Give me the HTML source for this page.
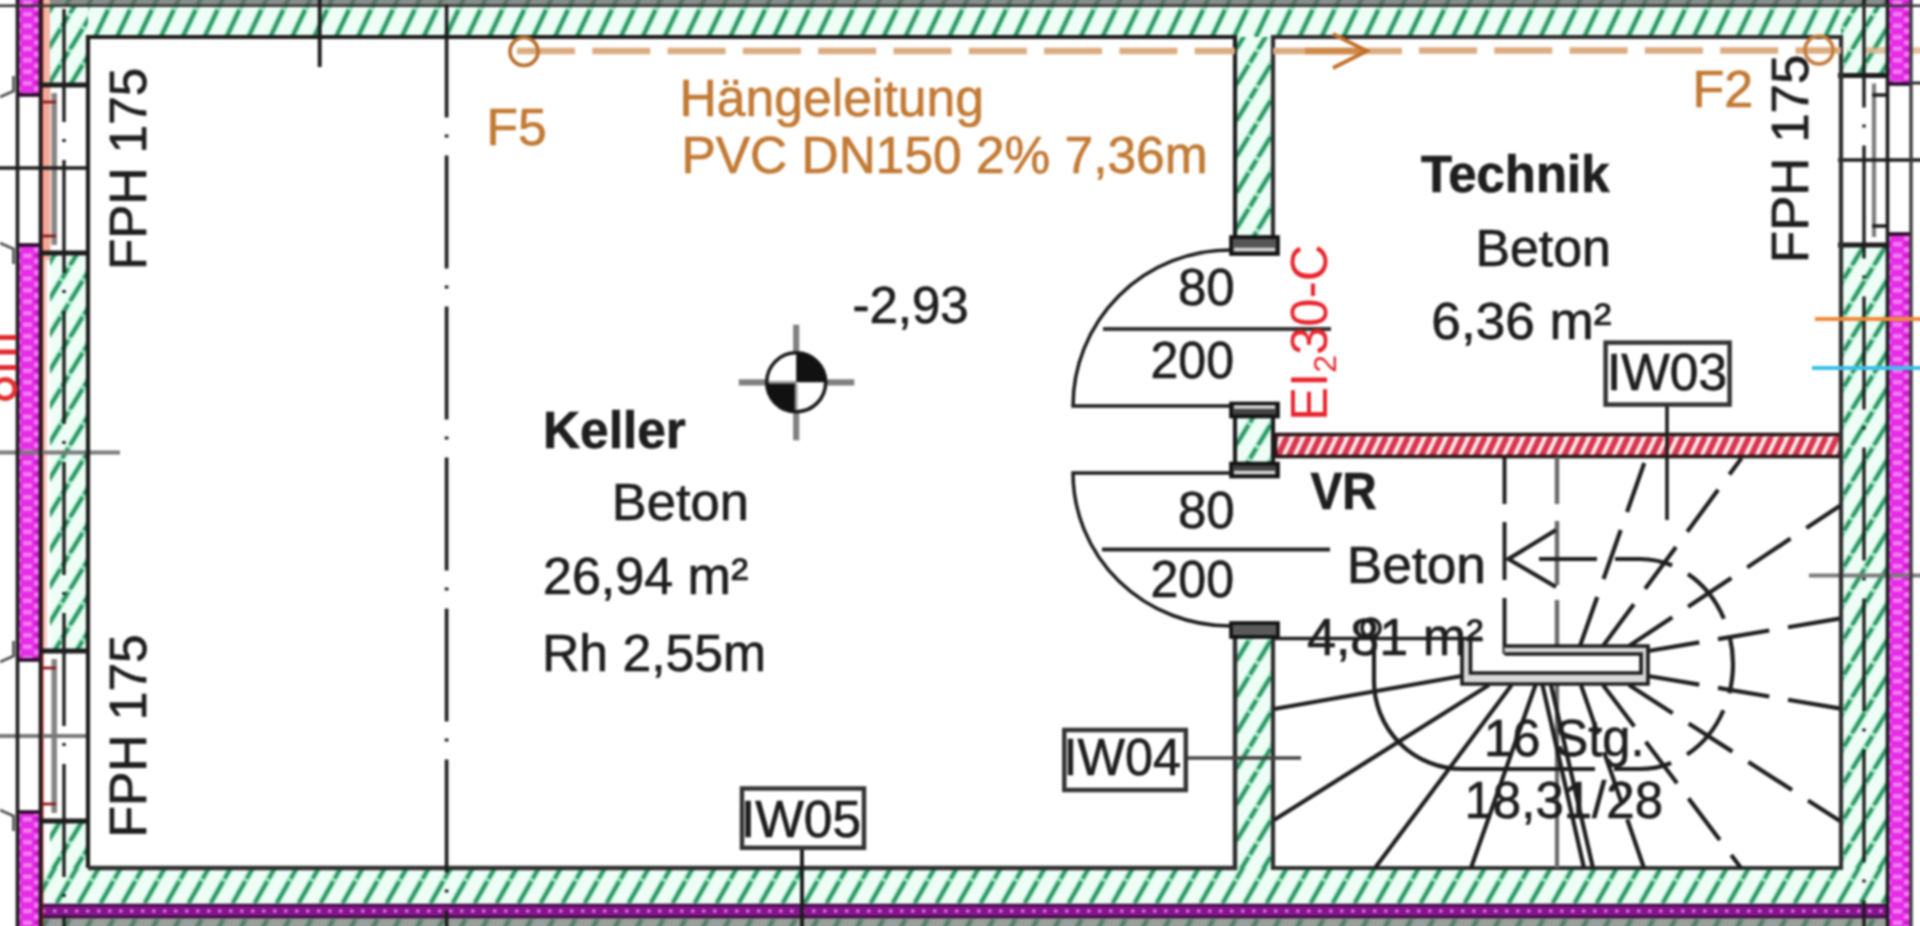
<!DOCTYPE html>
<html><head><meta charset="utf-8"><style>
html,body{margin:0;padding:0;background:#fff;overflow:hidden}
svg{display:block;filter:blur(0.9px)}
text{font-family:"Liberation Sans",sans-serif}
</style></head><body>
<svg width="1944" height="950" viewBox="-12 -12 1944 950" style="position:absolute;left:-12px;top:-12px">
<g>

<defs>
 <pattern id="hat" patternUnits="userSpaceOnUse" x="48" y="13.4" width="22" height="36">
  <rect width="22" height="36" fill="#effdf7"/>
  <path d="M0 36 L22 0 M-22 36 L0 0 M22 36 L44 0" stroke="#a6ecca" stroke-width="6.44"/>
  <path d="M0 36 L22 0 M-22 36 L0 0 M22 36 L44 0" stroke="#2c9263" stroke-width="3.71" stroke-dasharray="24 3 12 3"/>
 </pattern>
 <pattern id="hatT" patternUnits="userSpaceOnUse" x="7.5" y="-9" width="21.9" height="46">
  <rect width="21.9" height="46" fill="#effdf7"/>
  <path d="M0 46 L21.9 0 M-21.9 46 L0 0 M21.9 46 L43.8 0" stroke="#a6ecca" stroke-width="6.44"/>
  <path d="M0 46 L21.9 0 M-21.9 46 L0 0 M21.9 46 L43.8 0" stroke="#2c9263" stroke-width="3.71" stroke-dasharray="30 3 14 3"/>
 </pattern>
 <pattern id="hatB" patternUnits="userSpaceOnUse" x="12.8" y="17.5" width="22" height="38.5">
  <rect width="22" height="38.5" fill="#effdf7"/>
  <path d="M0 38.5 L22 0 M-22 38.5 L0 0 M22 38.5 L44 0" stroke="#a6ecca" stroke-width="6.44"/>
  <path d="M0 38.5 L22 0 M-22 38.5 L0 0 M22 38.5 L44 0" stroke="#2c9263" stroke-width="3.71" stroke-dasharray="25 3 13 3"/>
 </pattern>
 <pattern id="rhat" patternUnits="userSpaceOnUse" width="11" height="23">
  <rect width="11" height="23" fill="#fde8ea"/>
  <path d="M0 23 L11 0 M-11 23 L0 0 M11 23 L22 0" stroke="#d8364e" stroke-width="5.88"/>
 </pattern>
 <pattern id="mag" patternUnits="userSpaceOnUse" width="22" height="11.5">
  <rect width="22" height="11.5" fill="#e62ce6"/>
  <rect x="1" y="0.5" width="9" height="4.5" fill="#f27cf2"/>
  <rect x="12" y="6" width="9" height="4.5" fill="#f27cf2"/>
  <rect x="12" y="1.5" width="7" height="2" fill="#b01eb0"/>
 </pattern>
</defs>

<rect x="-12" y="-12" width="1944" height="950" fill="#fff"/>
<rect x="42" y="-12" width="1846" height="18.0" fill="url(#hatT)"/>
<rect x="42" y="-12" width="1846" height="18.0" fill="#646866" opacity="0.75"/>
<rect x="42" y="6" width="1846" height="31" fill="url(#hatT)"/>
<rect x="50" y="6" width="38" height="862" fill="url(#hat)"/>
<rect x="1841" y="6" width="47" height="862" fill="url(#hat)"/>
<rect x="42" y="868" width="1846" height="38" fill="url(#hatB)"/>
<rect x="42" y="916.0" width="1846" height="22.0" fill="url(#hatB)"/>
<rect x="42" y="917.0" width="1846" height="21.0" fill="#6c6c6c" opacity="0.65"/>
<rect x="1235" y="37" width="38" height="208" fill="url(#hat)"/>
<rect x="1235" y="417" width="38" height="48" fill="url(#hat)"/>
<rect x="1235" y="637" width="38" height="231" fill="url(#hat)"/>
<line x1="1847" y1="50.5" x2="1932" y2="50.5" stroke="#dcac80" stroke-width="6.30" stroke-dasharray="58 17.3" stroke-dashoffset="-18" opacity="0.75"/>
<rect x="18.5" y="-12" width="21" height="107.0" fill="url(#mag)"/>
<rect x="18.5" y="245" width="21" height="415" fill="url(#mag)"/>
<rect x="18.5" y="812.0" width="21" height="126.0" fill="url(#mag)"/>
<rect x="1888.5" y="-12" width="22" height="96.0" fill="url(#mag)"/>
<rect x="1888.5" y="234.0" width="22" height="704.0" fill="url(#mag)"/>
<rect x="40" y="905" width="1848" height="12" fill="#84168c"/>
<line x1="42" y1="911" x2="1888" y2="911" stroke="#ea70ea" stroke-width="2.80" stroke-dasharray="3.5 7.5"/>
<line x1="40" y1="905" x2="1888" y2="905" stroke="#3a0a3a" stroke-width="2.52"/>
<line x1="40" y1="917" x2="1888" y2="917" stroke="#3a0a3a" stroke-width="2.52"/>
<rect x="42" y="-12" width="8" height="272.0" fill="#f6b4a6"/>
<rect x="42" y="260" width="5" height="400" fill="#f8cfc6"/>
<line x1="41.8" y1="-12" x2="41.8" y2="938" stroke="#b01c24" stroke-width="3.08"/>
<rect x="1275" y="434" width="566" height="23" fill="url(#rhat)"/>
<rect x="1275.5" y="434.5" width="565" height="22" fill="none" stroke="#2a1414" stroke-width="3.64"/>
<rect x="48" y="85" width="39.5" height="168" fill="#fff"/>
<rect x="42.8" y="85" width="7.5" height="168" fill="#f4a898"/>
<line x1="54.2" y1="93" x2="54.2" y2="245" stroke="#858585" stroke-width="5.60"/>
<line x1="40" y1="85" x2="88" y2="85" stroke="#1c1c1c" stroke-width="5.04"/>
<line x1="40" y1="253" x2="88" y2="253" stroke="#1c1c1c" stroke-width="5.04"/>
<line x1="43" y1="102" x2="56" y2="102" stroke="#8a1a1a" stroke-width="2.80"/>
<line x1="43" y1="236" x2="56" y2="236" stroke="#8a1a1a" stroke-width="2.80"/>
<rect x="48" y="651" width="39.5" height="170" fill="#fff"/>
<rect x="42.8" y="651" width="7.5" height="170" fill="#fff"/>
<line x1="41.8" y1="651" x2="41.8" y2="821" stroke="#e02a2a" stroke-width="3.64"/>
<line x1="54.2" y1="659" x2="54.2" y2="813" stroke="#858585" stroke-width="5.60"/>
<line x1="40" y1="651" x2="88" y2="651" stroke="#1c1c1c" stroke-width="5.04"/>
<line x1="40" y1="821" x2="88" y2="821" stroke="#1c1c1c" stroke-width="5.04"/>
<line x1="43" y1="668" x2="56" y2="668" stroke="#8a1a1a" stroke-width="2.80"/>
<line x1="43" y1="804" x2="56" y2="804" stroke="#8a1a1a" stroke-width="2.80"/>
<rect x="1842" y="75.5" width="45.5" height="169.5" fill="#fff"/>
<line x1="1874" y1="83.5" x2="1874" y2="237" stroke="#7c7c7c" stroke-width="4.20"/>
<line x1="1838" y1="75.5" x2="1888" y2="75.5" stroke="#1c1c1c" stroke-width="5.04"/>
<line x1="1838" y1="245" x2="1888" y2="245" stroke="#1c1c1c" stroke-width="5.04"/>
<line x1="1872" y1="95" x2="1888" y2="95" stroke="#1c1c1c" stroke-width="3.50"/>
<line x1="1872" y1="226" x2="1888" y2="226" stroke="#1c1c1c" stroke-width="3.50"/>
<line x1="17" y1="95" x2="40" y2="95" stroke="#2a0a2a" stroke-width="3.64"/>
<line x1="17" y1="245" x2="40" y2="245" stroke="#2a0a2a" stroke-width="3.64"/>
<line x1="17" y1="660" x2="40" y2="660" stroke="#2a0a2a" stroke-width="3.64"/>
<line x1="17" y1="812" x2="40" y2="812" stroke="#2a0a2a" stroke-width="3.64"/>
<line x1="1887" y1="84" x2="1911" y2="84" stroke="#2a0a2a" stroke-width="3.64"/>
<line x1="1887" y1="234" x2="1911" y2="234" stroke="#2a0a2a" stroke-width="3.64"/>
<path d="M0 97 L13.5 91 L13.5 76" fill="none" stroke="#555" stroke-width="2.80"/>
<path d="M0 243 L13.5 249 L13.5 264" fill="none" stroke="#555" stroke-width="2.80"/>
<path d="M0 662 L13.5 656 L13.5 641" fill="none" stroke="#555" stroke-width="2.80"/>
<path d="M0 810 L13.5 816 L13.5 831" fill="none" stroke="#555" stroke-width="2.80"/>
<line x1="-12" y1="168" x2="88" y2="168" stroke="#1c1c1c" stroke-width="3.64"/>
<line x1="-12" y1="736" x2="88" y2="736" stroke="#7a7a7a" stroke-width="4.20"/>
<line x1="-12" y1="452.5" x2="120" y2="452.5" stroke="#7a7a7a" stroke-width="4.20"/>
<line x1="1838" y1="160" x2="1932" y2="160" stroke="#1c1c1c" stroke-width="3.64"/>
<line x1="1809" y1="575.5" x2="1932" y2="575.5" stroke="#7a7a7a" stroke-width="4.20"/>
<line x1="1911" y1="83" x2="1932" y2="83" stroke="#1c1c1c" stroke-width="2.80"/>
<line x1="17.5" y1="-12" x2="17.5" y2="938" stroke="#1c1c1c" stroke-width="3.64"/>
<line x1="40.5" y1="-12" x2="40.5" y2="938" stroke="#1c1c1c" stroke-width="3.64"/>
<line x1="64" y1="-12" x2="64" y2="938" stroke="#1c1c1c" stroke-width="3.36" stroke-dasharray="113 17 3 18" stroke-dashoffset="130"/>
<line x1="1887.5" y1="-12" x2="1887.5" y2="938" stroke="#1c1c1c" stroke-width="3.64"/>
<line x1="1911" y1="-12" x2="1911" y2="938" stroke="#3a3a3a" stroke-width="3.36"/>
<line x1="1864" y1="-12" x2="1864" y2="938" stroke="#1c1c1c" stroke-width="3.36" stroke-dasharray="113 17 3 18" stroke-dashoffset="144.5"/>
<line x1="-12" y1="5.8" x2="1932" y2="5.8" stroke="#333" stroke-width="2.52"/>
<path d="M88 868 L88 37 L1235 37 L1235 245" fill="none" stroke="#1c1c1c" stroke-width="4.20"/>
<path d="M1235 637 L1235 868 L88 868" fill="none" stroke="#2e2e2e" stroke-width="4.48"/>
<path d="M1235 417 L1235 465" fill="none" stroke="#1c1c1c" stroke-width="4.20"/>
<path d="M1273 245 L1273 37 L1841 37 L1841 868 L1273 868 L1273 637" fill="none" stroke="#2e2e2e" stroke-width="4.20"/>
<path d="M1273 417 L1273 465" fill="none" stroke="#1c1c1c" stroke-width="4.20"/>
<rect x="1231" y="237" width="47" height="17" fill="#555" stroke="#111" stroke-width="3.64"/>
<line x1="1234" y1="249.5" x2="1275" y2="249.5" stroke="#d4d4d4" stroke-width="3.64"/>
<rect x="1231" y="403.5" width="47" height="13.0" fill="#444" stroke="#111" stroke-width="3.64"/>
<line x1="1234" y1="407" x2="1275" y2="407" stroke="#d4d4d4" stroke-width="3.64"/>
<rect x="1231" y="463.5" width="47" height="13.0" fill="#444" stroke="#111" stroke-width="3.64"/>
<line x1="1234" y1="472.5" x2="1275" y2="472.5" stroke="#d4d4d4" stroke-width="3.64"/>
<rect x="1231" y="623" width="47" height="14" fill="#5a5a5a" stroke="#111" stroke-width="3.64"/>
<path d="M1230 250 A 157 156 0 0 0 1073 406 L1231 406" fill="none" stroke="#1c1c1c" stroke-width="3.50"/>
<path d="M1231 473 L1073 473 A 157 153 0 0 0 1230 626" fill="none" stroke="#1c1c1c" stroke-width="3.50"/>
<line x1="1103" y1="329" x2="1331" y2="329" stroke="#333" stroke-width="3.92"/>
<line x1="1102" y1="549.5" x2="1330" y2="549.5" stroke="#222" stroke-width="3.92"/>
<line x1="319.7" y1="-12" x2="319.7" y2="67" stroke="#1c1c1c" stroke-width="3.92"/>
<line x1="446.6" y1="-12" x2="446.6" y2="938" stroke="#1c1c1c" stroke-width="3.64" stroke-dasharray="113 17 3 18" stroke-dashoffset="134.5"/>
<line x1="517" y1="51" x2="1235" y2="51" stroke="#dcac80" stroke-width="6.30" stroke-dasharray="58 17.3"/>
<line x1="1273" y1="51" x2="1402" y2="51" stroke="#dcac80" stroke-width="6.30"/>
<line x1="1419" y1="50.5" x2="1841" y2="50.5" stroke="#dcac80" stroke-width="6.30" stroke-dasharray="58 17.3"/>
<circle cx="524" cy="51.5" r="14" fill="none" stroke="#b86e2c" stroke-width="3.64"/>
<circle cx="1819" cy="50" r="14" fill="none" stroke="#c57c3c" stroke-width="3.64"/>
<line x1="1305" y1="51" x2="1362" y2="51" stroke="#d08a48" stroke-width="6.30"/>
<path d="M1333 34 L1367 51 L1333 68" fill="none" stroke="#c06e28" stroke-width="3.64"/>
<line x1="1815" y1="319" x2="1932" y2="319" stroke="#f08a3a" stroke-width="4.20"/>
<line x1="1812" y1="368" x2="1932" y2="368" stroke="#3cc0e8" stroke-width="4.20"/>
<line x1="738.8" y1="382.3" x2="854.3" y2="382.3" stroke="#808080" stroke-width="6.16"/>
<line x1="796.2" y1="324.7" x2="796.2" y2="440.3" stroke="#808080" stroke-width="6.16"/>
<circle cx="796.2" cy="382.3" r="29.5" fill="#fff" stroke="#1c1c1c" stroke-width="3.64"/>
<path d="M796.2 382.3 L796.2 352.8 A29.5 29.5 0 0 1 825.7 382.3 Z" fill="#111"/>
<path d="M796.2 382.3 L796.2 411.8 A29.5 29.5 0 0 1 766.7 382.3 Z" fill="#111"/>
<line x1="768.7" y1="382.3" x2="796.2" y2="382.3" stroke="#9a9a9a" stroke-width="2.80"/>
<line x1="796.2" y1="384.3" x2="796.2" y2="409.8" stroke="#9a9a9a" stroke-width="2.80"/>
<line x1="1504.5" y1="457" x2="1504.5" y2="654" stroke="#1e1e1e" stroke-width="3.92" stroke-dasharray="47 18 58 18 60"/>
<line x1="1557" y1="457" x2="1557" y2="646" stroke="#6a6a6a" stroke-width="4.48" stroke-dasharray="47 17 64 15 60"/>
<line x1="1557" y1="684" x2="1557" y2="868" stroke="#6a6a6a" stroke-width="4.20"/>
<line x1="1667" y1="405" x2="1667" y2="520" stroke="#1e1e1e" stroke-width="3.64"/>
<path d="M1504.5 646 L1648 646 L1648 684 L1462 684 L1462 638 L1470 638 L1470 673 L1641 673 L1641 654 L1504.5 654 Z" fill="#d8d8d8" stroke="none"/>
<path d="M1504.5 646 L1648 646 L1648 684 L1462 684 L1462 638" fill="none" stroke="#1e1e1e" stroke-width="3.64"/>
<path d="M1504.5 654 L1641 654 L1641 673 L1470.5 673 L1470.5 640" fill="none" stroke="#1e1e1e" stroke-width="3.64"/>
<line x1="1275" y1="638.5" x2="1482" y2="638.5" stroke="#1e1e1e" stroke-width="3.64"/>
<line x1="1462" y1="676" x2="1274" y2="709" stroke="#1e1e1e" stroke-width="4.20"/>
<line x1="1489" y1="685" x2="1274" y2="820" stroke="#1e1e1e" stroke-width="4.20"/>
<line x1="1511.6" y1="685" x2="1375" y2="868" stroke="#1e1e1e" stroke-width="4.20"/>
<line x1="1535.5" y1="685" x2="1471" y2="868" stroke="#1e1e1e" stroke-width="4.20"/>
<line x1="1542.5" y1="685" x2="1584" y2="868" stroke="#1e1e1e" stroke-width="4.20"/>
<line x1="1551" y1="685" x2="1593" y2="868" stroke="#1e1e1e" stroke-width="4.20"/>
<line x1="1581" y1="685" x2="1644" y2="868" stroke="#1e1e1e" stroke-width="4.20" stroke-dasharray="52 19"/>
<line x1="1603" y1="685" x2="1741" y2="868" stroke="#1e1e1e" stroke-width="4.20" stroke-dasharray="52 19"/>
<line x1="1629" y1="685" x2="1840" y2="821" stroke="#1e1e1e" stroke-width="4.20" stroke-dasharray="52 19"/>
<line x1="1648" y1="676" x2="1840" y2="708.5" stroke="#1e1e1e" stroke-width="4.20" stroke-dasharray="52 19"/>
<line x1="1648" y1="651" x2="1840" y2="618.5" stroke="#1e1e1e" stroke-width="4.20" stroke-dasharray="52 19"/>
<line x1="1629" y1="646" x2="1840" y2="505.7" stroke="#1e1e1e" stroke-width="4.20" stroke-dasharray="52 19"/>
<line x1="1603" y1="646" x2="1741.6" y2="458" stroke="#1e1e1e" stroke-width="4.20" stroke-dasharray="52 19"/>
<line x1="1580" y1="646" x2="1646" y2="458" stroke="#1e1e1e" stroke-width="4.20" stroke-dasharray="52 19"/>
<path d="M1539 559 H1640 A93 105 0 0 1 1640 769 H1614" fill="none" stroke="#1e1e1e" stroke-width="4.20" stroke-dasharray="58 18"/>
<path d="M1595 769 H1462 A88 88 0 0 1 1374 681 V638" fill="none" stroke="#1e1e1e" stroke-width="4.20"/>
<circle cx="1371" cy="628" r="9" fill="none" stroke="#1e1e1e" stroke-width="3.64"/>
<path d="M1556 530 L1508.5 559 L1556 587" fill="none" stroke="#1e1e1e" stroke-width="4.20"/>
<line x1="1186" y1="758" x2="1301" y2="758" stroke="#444" stroke-width="3.64"/>
<line x1="802" y1="848" x2="802" y2="938" stroke="#1c1c1c" stroke-width="3.92"/>
<text x="679.45" y="115.5" font-size="51" fill="#c27a34" stroke="#c27a34" stroke-width="0.7" textLength="304.63" lengthAdjust="spacingAndGlyphs">Hängeleitung</text>
<text x="681.46" y="172.5" font-size="51" fill="#c27a34" stroke="#c27a34" stroke-width="0.7" textLength="526.11" lengthAdjust="spacingAndGlyphs">PVC DN150 2% 7,36m</text>
<text x="486.54" y="145" font-size="52" fill="#c27a34" stroke="#c27a34" stroke-width="0.7" textLength="60.14" lengthAdjust="spacingAndGlyphs">F5</text>
<text x="1692.50" y="106.5" font-size="52" fill="#c27a34" stroke="#c27a34" stroke-width="0.7" textLength="60.69" lengthAdjust="spacingAndGlyphs">F2</text>
<text x="852.50" y="322.5" font-size="51" fill="#1e1e1e" stroke="#1e1e1e" stroke-width="0.7" textLength="116.23" lengthAdjust="spacingAndGlyphs">-2,93</text>
<text x="542.98" y="447.5" font-size="51" fill="#1e1e1e" stroke="#1e1e1e" stroke-width="0.7" font-weight="bold" textLength="142.76" lengthAdjust="spacingAndGlyphs">Keller</text>
<text x="611.89" y="520" font-size="51" fill="#1e1e1e" stroke="#1e1e1e" stroke-width="0.7" textLength="136.97" lengthAdjust="spacingAndGlyphs">Beton</text>
<text x="542.96" y="594" font-size="51" fill="#1e1e1e" stroke="#1e1e1e" stroke-width="0.7" textLength="205.32" lengthAdjust="spacingAndGlyphs">26,94 m²</text>
<text x="541.94" y="670.5" font-size="51" fill="#1e1e1e" stroke="#1e1e1e" stroke-width="0.7" textLength="224.19" lengthAdjust="spacingAndGlyphs">Rh 2,55m</text>
<text x="1178.00" y="304.5" font-size="51" fill="#1e1e1e" stroke="#1e1e1e" stroke-width="0.7" textLength="56.72" lengthAdjust="spacingAndGlyphs">80</text>
<text x="1150.54" y="377.5" font-size="51" fill="#1e1e1e" stroke="#1e1e1e" stroke-width="0.7" textLength="83.50" lengthAdjust="spacingAndGlyphs">200</text>
<text x="1178.00" y="528" font-size="51" fill="#1e1e1e" stroke="#1e1e1e" stroke-width="0.7" textLength="56.72" lengthAdjust="spacingAndGlyphs">80</text>
<text x="1150.54" y="597" font-size="51" fill="#1e1e1e" stroke="#1e1e1e" stroke-width="0.7" textLength="83.50" lengthAdjust="spacingAndGlyphs">200</text>
<text x="1310.50" y="508.5" font-size="51" fill="#1e1e1e" stroke="#1e1e1e" stroke-width="0.7" font-weight="bold" textLength="66.29" lengthAdjust="spacingAndGlyphs">VR</text>
<text x="1346.83" y="583" font-size="51" fill="#1e1e1e" stroke="#1e1e1e" stroke-width="0.7" textLength="139.08" lengthAdjust="spacingAndGlyphs">Beton</text>
<text x="1306.98" y="655" font-size="51" fill="#1e1e1e" stroke="#1e1e1e" stroke-width="0.7" textLength="176.43" lengthAdjust="spacingAndGlyphs">4,81 m²</text>
<text x="1421.00" y="192.3" font-size="51" fill="#1e1e1e" stroke="#1e1e1e" stroke-width="0.7" font-weight="bold" textLength="188.44" lengthAdjust="spacingAndGlyphs">Technik</text>
<text x="1475.44" y="266" font-size="51" fill="#1e1e1e" stroke="#1e1e1e" stroke-width="0.7" textLength="135.38" lengthAdjust="spacingAndGlyphs">Beton</text>
<text x="1431.38" y="339" font-size="51" fill="#1e1e1e" stroke="#1e1e1e" stroke-width="0.7" textLength="180.05" lengthAdjust="spacingAndGlyphs">6,36 m²</text>
<text x="1484.03" y="756" font-size="51" fill="#1e1e1e" stroke="#1e1e1e" stroke-width="0.7" textLength="160.55" lengthAdjust="spacingAndGlyphs">16 Stg.</text>
<text x="1464.50" y="817.5" font-size="51" fill="#1e1e1e" stroke="#1e1e1e" stroke-width="0.7" textLength="198.50" lengthAdjust="spacingAndGlyphs">18,31/28</text>
<rect x="1605.6" y="342.6" width="124.0" height="62.0" fill="#fff" stroke="#333" stroke-width="4.48"/>
<text x="1606.96" y="389.5" font-size="51" fill="#1e1e1e" stroke="#1e1e1e" stroke-width="0.7" textLength="120.09" lengthAdjust="spacingAndGlyphs">IW03</text>
<rect x="1064.3" y="730" width="121.5" height="60.0" fill="#fff" stroke="#333" stroke-width="4.48"/>
<text x="1063.57" y="775" font-size="51" fill="#1e1e1e" stroke="#1e1e1e" stroke-width="0.7" textLength="117.45" lengthAdjust="spacingAndGlyphs">IW04</text>
<rect x="742" y="788.5" width="122.0" height="59.3" fill="#fff" stroke="#333" stroke-width="4.48"/>
<text x="740.96" y="837" font-size="51" fill="#1e1e1e" stroke="#1e1e1e" stroke-width="0.7" textLength="120.09" lengthAdjust="spacingAndGlyphs">IW05</text>
<text transform="translate(145.5,270.02) rotate(-90)" font-size="51" fill="#1e1e1e" stroke="#1e1e1e" stroke-width="0.7" textLength="202.28" lengthAdjust="spacingAndGlyphs">FPH 175</text>
<text transform="translate(145.5,837.54) rotate(-90)" font-size="51" fill="#1e1e1e" stroke="#1e1e1e" stroke-width="0.7" textLength="203.31" lengthAdjust="spacingAndGlyphs">FPH 175</text>
<text transform="translate(1807.5,263.14) rotate(-90)" font-size="51" fill="#1e1e1e" stroke="#1e1e1e" stroke-width="0.7" textLength="208.47" lengthAdjust="spacingAndGlyphs">FPH 175</text>
<text transform="translate(1327,421) rotate(-90)" font-size="51" fill="#e8242c">EI<tspan font-size="32" dy="9">2</tspan><tspan dy="-9">30-C</tspan></text>
<line x1="-12" y1="337.5" x2="16.5" y2="337.5" stroke="#e02a30" stroke-width="5.04"/>
<line x1="-12" y1="352" x2="16.5" y2="352" stroke="#e02a30" stroke-width="5.04"/>
<line x1="-12" y1="367.5" x2="16.5" y2="367.5" stroke="#e02a30" stroke-width="5.04"/>
<ellipse cx="5" cy="389" rx="10" ry="9.5" fill="none" stroke="#e43030" stroke-width="5.04"/>
</g>
</svg></body></html>
